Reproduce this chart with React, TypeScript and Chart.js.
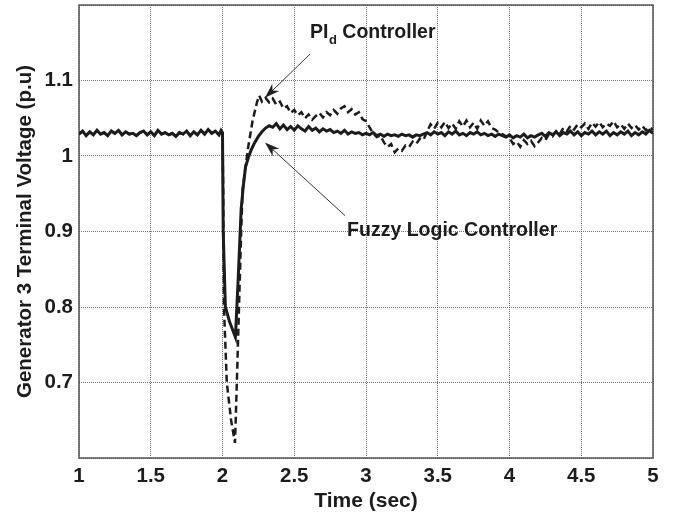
import React, { useEffect, useRef } from 'react';
import { Chart, registerables } from 'chart.js';

Chart.register(...registerables);

// ---------- data ----------
const SAMPLE_STEP = 0.025;

// pre-fault (both controllers identical), t = 1.000 ... 1.975
const preFaultStart = 1.0;
const preFaultVolt = [
  1.029, 1.033, 1.027, 1.032, 1.028, 1.034, 1.029, 1.031, 1.027, 1.033,
  1.030, 1.034, 1.028, 1.032, 1.029, 1.030, 1.027, 1.031, 1.033, 1.028,
  1.032, 1.027, 1.034, 1.029, 1.031, 1.028, 1.030, 1.026, 1.031, 1.029,
  1.033, 1.027, 1.032, 1.028, 1.034, 1.029, 1.035, 1.030, 1.033, 1.028,
];
const faultTime = [1.99, 2.0];
const faultVolt = [1.034, 1.031];

// Fuzzy logic controller transient
const fuzzyTransientTime = [2.005, 2.02, 2.05, 2.09, 2.11, 2.13, 2.145, 2.16, 2.18, 2.2, 2.225, 2.25, 2.275];
const fuzzyTransientVolt = [0.90, 0.80, 0.78, 0.76, 0.84, 0.93, 0.96, 0.985, 0.998, 1.008, 1.018, 1.026, 1.032];
// Fuzzy steady part, t = 2.300 ... 5.000
const steadyStart = 2.3;
const fuzzySteadyVolt = [
  1.037, 1.040, 1.038, 1.043, 1.036, 1.041, 1.035, 1.039, 1.034, 1.040,
  1.036, 1.033, 1.039, 1.034, 1.037, 1.032, 1.036, 1.033, 1.035, 1.031,
  1.033, 1.030, 1.034, 1.029, 1.032, 1.030, 1.031, 1.028, 1.030, 1.028,
  1.031, 1.027, 1.029, 1.026, 1.029, 1.027, 1.028, 1.026, 1.029, 1.027,
  1.028, 1.025, 1.028, 1.027, 1.029, 1.031, 1.028, 1.032, 1.029, 1.031,
  1.027, 1.032, 1.029, 1.033, 1.028, 1.030, 1.027, 1.031, 1.029, 1.032,
  1.028, 1.030, 1.027, 1.029, 1.026, 1.029, 1.027, 1.025, 1.028, 1.024,
  1.027, 1.025, 1.029, 1.024, 1.027, 1.025, 1.028, 1.030, 1.026, 1.031,
  1.028, 1.032, 1.027, 1.031, 1.029, 1.033, 1.028, 1.032, 1.027, 1.031,
  1.029, 1.033, 1.028, 1.032, 1.029, 1.033, 1.027, 1.031, 1.028, 1.032,
  1.029, 1.033, 1.027, 1.031, 1.028, 1.032, 1.029, 1.034, 1.030,
];

// PId controller transient
const pidTransientTime = [2.005, 2.01, 2.03, 2.06, 2.087, 2.10, 2.115, 2.13, 2.14, 2.16, 2.18, 2.21, 2.24, 2.256, 2.275];
const pidTransientVolt = [0.95, 0.80, 0.70, 0.65, 0.62, 0.70, 0.80, 0.90, 0.955, 0.985, 1.013, 1.047, 1.071, 1.080, 1.072];
// PId steady part, t = 2.300 ... 5.000
const pidSteadyVolt = [
  1.077, 1.071, 1.076, 1.068, 1.072, 1.063, 1.066, 1.057, 1.061, 1.054,
  1.058, 1.050, 1.055, 1.048, 1.053, 1.057, 1.051, 1.058, 1.054, 1.061,
  1.056, 1.063, 1.066, 1.058, 1.062, 1.055, 1.058, 1.049, 1.046, 1.038,
  1.030, 1.025, 1.027, 1.018, 1.012, 1.016, 1.005, 1.010, 1.007, 1.014,
  1.012, 1.019, 1.016, 1.023, 1.021, 1.032, 1.042, 1.036, 1.044, 1.038,
  1.045, 1.037, 1.043, 1.036, 1.046, 1.039, 1.047, 1.038, 1.044, 1.036,
  1.047, 1.040, 1.046, 1.037, 1.035, 1.031, 1.029, 1.026, 1.024, 1.016,
  1.019, 1.012, 1.021, 1.016, 1.020, 1.013, 1.018, 1.024, 1.021, 1.029,
  1.026, 1.033, 1.029, 1.037, 1.033, 1.040, 1.035, 1.042, 1.038, 1.043,
  1.036, 1.044, 1.039, 1.045, 1.038, 1.043, 1.040, 1.046, 1.038, 1.042,
  1.036, 1.043, 1.037, 1.041, 1.035, 1.040, 1.034, 1.038, 1.035,
];

const xMin = 1, xMax = 5, xStep = 0.5;
const yMin = 0.6, yMax = 1.2, yStep = 0.1;
const yTickLabels = [0.7, 0.8, 0.9, 1, 1.1];

const seriesNames = ['Fuzzy Logic Controller', 'PId Controller'];

// annotation anchors (data coordinates)
const pidLabelAt = { x: 2.61, y: 1.156 };
const pidArrowFrom = { x: 2.61, y: 1.135 };
const pidArrowTo = { x: 2.296, y: 1.077 };
const fuzzyLabelAt = { x: 2.868, y: 0.8935 };
const fuzzyArrowFrom = { x: 2.854, y: 0.921 };
const fuzzyArrowTo = { x: 2.296, y: 1.018 };

// ---------- helpers ----------
type P = { x: number; y: number };
const uniform = (start: number, vals: number[]): P[] =>
  vals.map((v, i) => ({ x: +(start + i * SAMPLE_STEP).toFixed(4), y: v }));
const zip = (t: number[], v: number[]): P[] => t.map((tt, i) => ({ x: tt, y: v[i] }));

const common: P[] = [...uniform(preFaultStart, preFaultVolt), ...zip(faultTime, faultVolt)];
const fuzzyData: P[] = [...common, ...zip(fuzzyTransientTime, fuzzyTransientVolt), ...uniform(steadyStart, fuzzySteadyVolt)];
const pidData: P[] = [...common, ...zip(pidTransientTime, pidTransientVolt), ...uniform(steadyStart, pidSteadyVolt)];

const FONT = "'Liberation Sans', Arial, Helvetica, sans-serif";
const INK = '#1c1c1c';

function drawArrow(ctx: CanvasRenderingContext2D, x1: number, y1: number, x2: number, y2: number) {
  const ang = Math.atan2(y2 - y1, x2 - x1);
  const len = 15, half = 5;
  ctx.beginPath();
  ctx.moveTo(x1, y1);
  ctx.lineTo(x2 - Math.cos(ang) * len * 0.6, y2 - Math.sin(ang) * len * 0.6);
  ctx.stroke();
  ctx.beginPath();
  ctx.moveTo(x2, y2);
  ctx.lineTo(x2 - Math.cos(ang) * len + Math.sin(ang) * half, y2 - Math.sin(ang) * len - Math.cos(ang) * half);
  ctx.lineTo(x2 - Math.cos(ang) * len * 0.7, y2 - Math.sin(ang) * len * 0.7);
  ctx.lineTo(x2 - Math.cos(ang) * len - Math.sin(ang) * half, y2 - Math.sin(ang) * len + Math.cos(ang) * half);
  ctx.closePath();
  ctx.fill();
}

const framePlugin = {
  id: 'frame',
  beforeDatasetsDraw(chart: any) {
    const { ctx, chartArea: a } = chart;
    ctx.save();
    ctx.strokeStyle = '#555';
    ctx.lineWidth = 1.5;
    ctx.strokeRect(a.left, a.top, a.right - a.left, a.bottom - a.top);
    ctx.restore();
  },
};

const annotationPlugin = {
  id: 'annot',
  afterDatasetsDraw(chart: any) {
    const { ctx } = chart;
    const xs = chart.scales.x, ys = chart.scales.y;
    const px = (p: P) => xs.getPixelForValue(p.x);
    const py = (p: P) => ys.getPixelForValue(p.y);
    ctx.save();
    ctx.strokeStyle = '#333';
    ctx.fillStyle = '#222';
    ctx.lineWidth = 1;
    drawArrow(ctx, px(pidArrowFrom), py(pidArrowFrom), px(pidArrowTo), py(pidArrowTo));
    drawArrow(ctx, px(fuzzyArrowFrom), py(fuzzyArrowFrom), px(fuzzyArrowTo), py(fuzzyArrowTo));

    ctx.fillStyle = INK;
    ctx.textBaseline = 'alphabetic';
    ctx.textAlign = 'left';
    // PI_d Controller
    let x = px(pidLabelAt);
    const y = py(pidLabelAt);
    ctx.font = `bold 19.5px ${FONT}`;
    ctx.fillText('PI', x, y);
    x += ctx.measureText('PI').width;
    ctx.font = `bold 13px ${FONT}`;
    ctx.fillText('d', x + 0.5, y + 6);
    x += ctx.measureText('d').width + 0.5;
    ctx.font = `bold 19.5px ${FONT}`;
    ctx.fillText(' Controller', x, y);
    // Fuzzy Logic Controller
    ctx.fillText(seriesNames[0], px(fuzzyLabelAt), py(fuzzyLabelAt));
    ctx.restore();
  },
};

export default function App() {
  const ref = useRef<HTMLCanvasElement | null>(null);

  useEffect(() => {
    if (!ref.current) return;
    Chart.defaults.font.family = FONT;
    const gridColor = 'rgba(80,80,80,0.8)';
    const chart = new Chart(ref.current, {
      type: 'line',
      data: {
        datasets: [
          {
            label: seriesNames[0],
            data: fuzzyData,
            borderColor: INK,
            borderWidth: 3,
            pointRadius: 0,
            tension: 0,
            fill: false,
          },
          {
            label: seriesNames[1],
            data: pidData,
            borderColor: INK,
            borderWidth: 2.5,
            borderDash: [7, 4],
            pointRadius: 0,
            tension: 0,
            fill: false,
          },
        ],
      },
      options: {
        animation: false,
        responsive: false,
        devicePixelRatio: 1,
        parsing: false,
        normalized: true,
        layout: { padding: { top: 5, right: 22, left: 0, bottom: 0 } },
        plugins: { legend: { display: false }, tooltip: { enabled: false } },
        scales: {
          x: {
            type: 'linear',
            min: xMin,
            max: xMax,
            ticks: {
              stepSize: xStep,
              autoSkip: false,
              maxRotation: 0,
              padding: 6,
              color: INK,
              font: { size: 20.5, weight: 'bold', family: FONT },
              callback: (v: any) => String(Math.round(Number(v) * 10) / 10),
            },
            grid: { color: gridColor, lineWidth: 1, drawTicks: false, tickLength: 0 },
            border: { display: false, dash: [1, 1] },
            title: {
              display: true,
              text: 'Time (sec)',
              color: INK,
              font: { size: 21, weight: 'bold', family: FONT },
              padding: { top: 0, bottom: 4 },
            },
            afterFit: (s: any) => { s.height = 60; s.paddingLeft = 0; s.paddingRight = 0; },
          },
          y: {
            type: 'linear',
            min: yMin,
            max: yMax,
            ticks: {
              stepSize: yStep,
              padding: 6,
              color: INK,
              font: { size: 20.5, weight: 'bold', family: FONT },
              callback: (v: any) => {
                const r = Math.round(Number(v) * 10) / 10;
                return yTickLabels.some((t) => Math.abs(t - r) < 1e-6) ? String(r) : '';
              },
            },
            grid: { color: gridColor, lineWidth: 1, drawTicks: false, tickLength: 0 },
            border: { display: false, dash: [1, 1] },
            title: {
              display: true,
              text: 'Generator 3 Terminal Voltage (p.u)',
              color: INK,
              font: { size: 20.5, weight: 'bold', family: FONT },
              padding: { top: 13, bottom: 0 },
            },
            afterFit: (s: any) => { s.width = 79; s.paddingTop = 0; s.paddingBottom = 0; },
          },
        },
      } as any,
      plugins: [framePlugin, annotationPlugin],
    });
    return () => chart.destroy();
  }, []);

  return (
    <div style={{ position: 'absolute', left: 0, top: 0, width: 675, height: 518, background: '#fff' }}>
      <canvas ref={ref} width={675} height={518} />
    </div>
  );
}
